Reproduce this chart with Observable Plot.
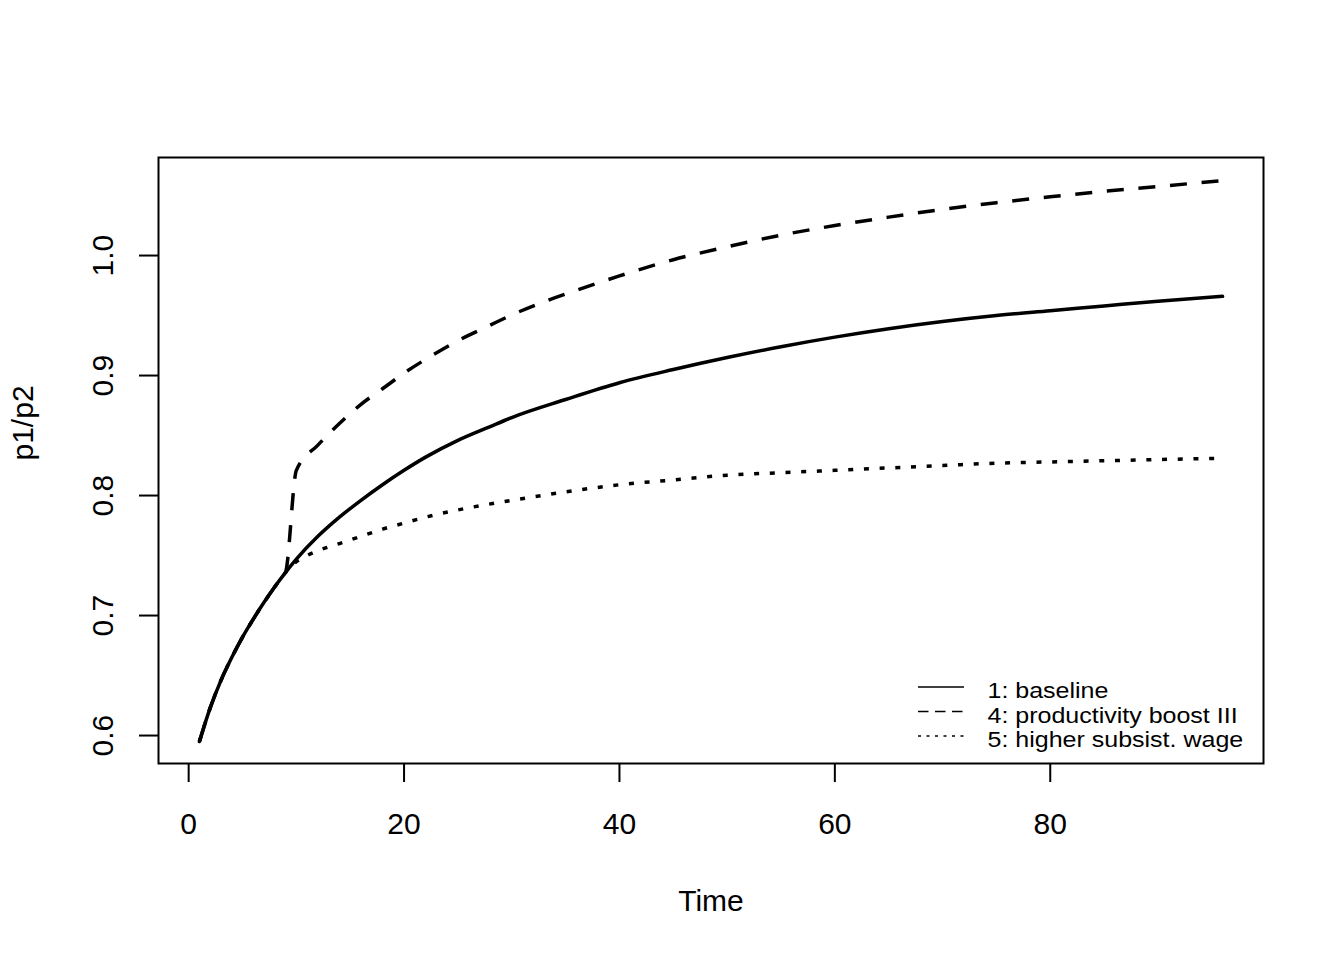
<!DOCTYPE html>
<html><head><meta charset="utf-8">
<script src="https://cdn.jsdelivr.net/npm/d3@7"></script>
<script src="https://cdn.jsdelivr.net/npm/@observablehq/plot@0.6"></script>
<style>
body{margin:0;background:#fff;}
#wrap{position:relative;width:1344px;height:960px;}
#legend{position:absolute;left:0;top:0;}
</style></head><body><div id="wrap"></div>
<script>
// ---- data ----
const timeBaseline = [1,2,3,4,5,6,7,8,9,10,12,14,16,18,20,22,25,28,30,35,40,45,50,55,60,65,70,75,80,85,90,96];
const baseline     = [0.595,0.623,0.646,0.665,0.682,0.697,0.711,0.724,0.736,0.747,0.766,0.782,0.796,0.809,0.821,0.832,0.846,0.8575,0.865,0.880,0.894,0.905,0.915,0.924,0.932,0.939,0.945,0.950,0.954,0.958,0.962,0.966];

const timeBoost = [1,2,3,4,5,6,7,8,9,10,12,14,16,18,20,22,25,28,30,33,36,40,45,50,55,60,65,70,75,80,85,90,96];
const boost     = [0.595,0.623,0.646,0.665,0.682,0.697,0.711,0.724,0.736,0.821,0.842,0.860,0.876,0.889,0.902,0.9135,0.929,0.942,0.9505,0.9615,0.971,0.983,0.9965,1.0073,1.017,1.025,1.032,1.0385,1.044,1.049,1.0535,1.0575,1.0625];

const timeWage = [1,2,3,4,5,6,7,8,9,10,11,12,14,16,18,20,22,25,30,35,40,45,50,55,60,65,70,75,80,85,90,96];
const wage     = [0.595,0.623,0.646,0.665,0.682,0.697,0.711,0.724,0.736,0.745,0.750,0.754,0.760,0.766,0.772,0.777,0.782,0.788,0.796,0.803,0.809,0.813,0.817,0.819,0.821,0.823,0.825,0.827,0.828,0.829,0.830,0.831];

const xTicks = [0,20,40,60,80];
const yTicks = [0.6,0.7,0.8,0.9,1.0];
const seriesNames = ["1: baseline","4: productivity boost III","5: higher subsist. wage"];
const xLabel = "Time";
const yLabel = "p1/p2";

function rows(times, values, name){ return times.map((t,i)=>({time:t, value:values[i], series:name})); }

const FONT = "Liberation Sans, Arial, Helvetica, sans-serif";

const plot = Plot.plot({
  width:1344, height:960,
  marginLeft:158, marginRight:81, marginTop:157, marginBottom:197,
  style:{fontFamily:FONT, fontSize:"30px", color:"#000", background:"#fff", overflow:"visible"},
  x:{domain:[-2.8,99.8]},
  y:{domain:[0.5767,1.0817]},
  marks:[
    Plot.frame({stroke:"#000", strokeWidth:2}),
    Plot.axisX({ticks:xTicks, tickSize:19, tickPadding:30, fontSize:30, label:null, strokeWidth:2, tickFormat:d=>String(d)}),
    Plot.axisY({ticks:yTicks, tickSize:19, tickPadding:27, tickRotate:-90, fontSize:30, label:null, strokeWidth:2, tickFormat:d=>d.toFixed(1)}),
    Plot.text([xLabel], {frameAnchor:"bottom", dy:147, lineAnchor:"bottom", fontSize:30}),
    Plot.text([yLabel], {frameAnchor:"left", dx:-126, rotate:-90, lineAnchor:"bottom", fontSize:30}),
    Plot.line(rows(timeWage, wage, seriesNames[2]), {x:"time", y:"value", stroke:"#000", strokeWidth:3.5, curve:"monotone-x", strokeDasharray:"5,10.7", strokeLinecap:"butt"}),
    Plot.line(rows(timeBoost, boost, seriesNames[1]), {x:"time", y:"value", stroke:"#000", strokeWidth:3.5, curve:"monotone-x", strokeDasharray:"17,14.7", strokeLinecap:"butt"}),
    Plot.line(rows(timeBaseline, baseline, seriesNames[0]), {x:"time", y:"value", stroke:"#000", strokeWidth:3.5, curve:"monotone-x"})
  ]
});
const wrap = document.getElementById("wrap");
wrap.appendChild(plot);

// legend overlay (inside plot panel, bottom-right)
const ns = "http://www.w3.org/2000/svg";
const leg = document.createElementNS(ns, "svg");
leg.setAttribute("id","legend");
leg.setAttribute("width","1344"); leg.setAttribute("height","960");
wrap.appendChild(leg);
const dashes = [null, "10.5,6.5", "3,5.5"];
const lineY = [687, 711.5, 736];
const legendFont = 22, legendStretch = 25 / 22;
seriesNames.forEach((name,i)=>{
  const l = document.createElementNS(ns,"line");
  l.setAttribute("x1",918); l.setAttribute("x2",964);
  l.setAttribute("y1",lineY[i]); l.setAttribute("y2",lineY[i]);
  l.setAttribute("stroke","#000"); l.setAttribute("stroke-width","1.6");
  if (dashes[i]) l.setAttribute("stroke-dasharray", dashes[i]);
  leg.appendChild(l);
  const t = document.createElementNS(ns,"text");
  t.setAttribute("x",987.5); t.setAttribute("y",lineY[i]+11.3);
  t.setAttribute("font-family",FONT); t.setAttribute("font-size",legendFont);
  t.textContent = name;
  leg.appendChild(t);
  const len = t.getComputedTextLength();
  t.setAttribute("textLength", (len*legendStretch).toFixed(1));
  t.setAttribute("lengthAdjust","spacingAndGlyphs");
});
</script>
</body></html>
